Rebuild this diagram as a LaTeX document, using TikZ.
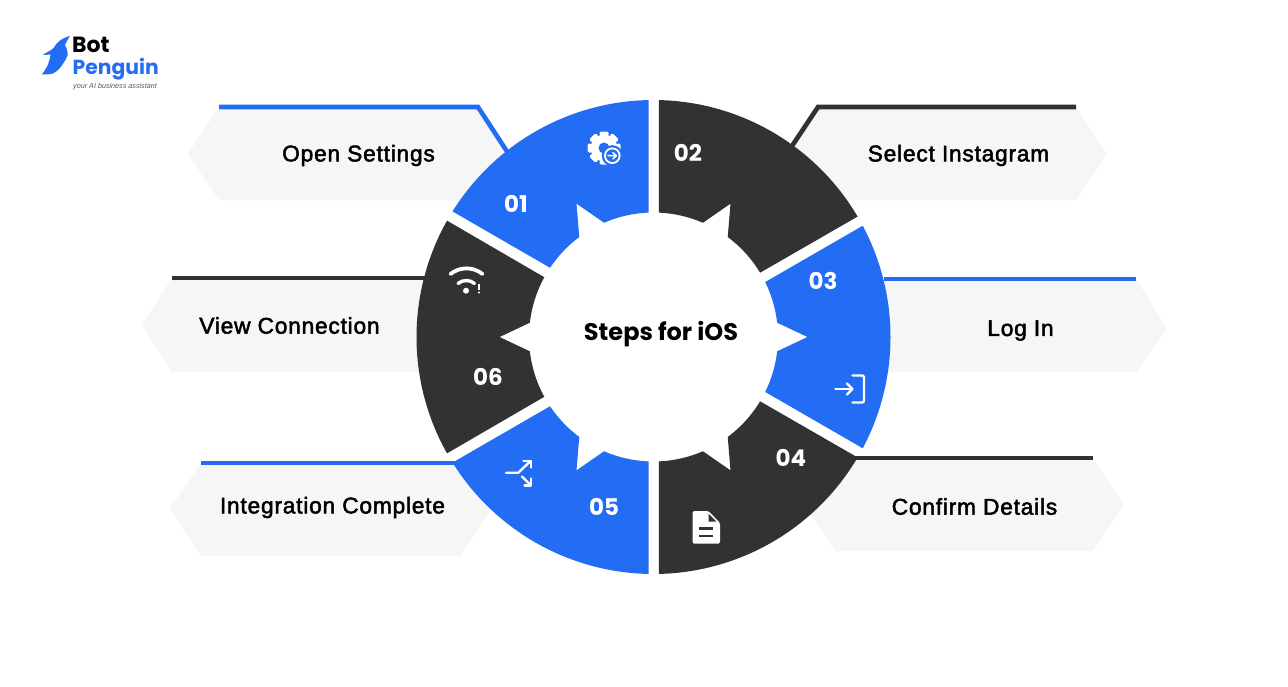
\documentclass[tikz,border=0pt]{standalone}
\usepackage{fontspec}
\setmainfont{Liberation Sans}
\newfontfamily\labfont[LetterSpace=3.5,FakeBold=2.2]{Liberation Sans}
\newfontfamily\popfont{Poppins}
\definecolor{wblue}{HTML}{236CF4}
\definecolor{wdark}{HTML}{323232}
\definecolor{hexfill}{HTML}{F6F6F6}
\tikzset{
  hexshape/.style={fill=hexfill,draw=none},
  hexline/.style={line width=4.6pt,line join=miter},
  steplabel/.style={font=\labfont\fontsize{22.7}{26}\selectfont,text=black,inner sep=0pt},
  stepnum/.style={font=\popfont\bfseries\fontsize{23}{26}\selectfont,text=white,inner sep=0pt},
  iconline/.style={draw=white,line width=2.4pt,line cap=round,line join=round},
}
% #1 colour, #2 outer start, #3 outer end, #4 inner start, #5 inner end, #6 spike angle
\newcommand{\wheelseg}[6]{%
  \fill[#1] (#2:237pt) arc[start angle=#2,end angle=#3,radius=237pt]
    -- (#5:124.5pt) arc[start angle=#5,end angle=#6+6.6,radius=124.5pt]
    -- (#6:154pt) -- (#6-6.6:124.5pt)
    arc[start angle=#6-6.6,end angle=#4,radius=124.5pt] -- cycle;}
\begin{document}
\begin{tikzpicture}[x=1pt,y=-1pt]
\useasboundingbox (0,0) rectangle (1288,686);
\fill[white] (0,0) rectangle (1288,686);
% hexagons
\fill[hexshape] (188,154) -- (219,107) -- (478,107) -- (508,154) -- (478,200) -- (219,200) -- cycle;
\fill[hexshape] (787,154) -- (818,107) -- (1076,107) -- (1107,154) -- (1076,200) -- (818,200) -- cycle;
\fill[hexshape] (860,329) -- (884,279) -- (1136,279) -- (1167,329) -- (1136,372) -- (860,372) -- cycle;
\fill[hexshape] (805,505) -- (835,458) -- (1093,458) -- (1124,505) -- (1093,551) -- (835,551) -- cycle;
\fill[hexshape] (170,509) -- (201,463) -- (460,463) -- (492,509) -- (460,556) -- (201,556) -- cycle;
\fill[hexshape] (142,325) -- (172,278) -- (440,278) -- (440,372) -- (172,372) -- cycle;
\draw[hexline,wblue] (219,107) -- (478,107) -- (508,153);
\draw[hexline,wdark] (1076,107) -- (818,107) -- (790,149);
\draw[hexline,wblue] (1136,279) -- (884,279);
\draw[hexline,wdark] (1093,458) -- (850,458);
\draw[hexline,wblue] (201,463) -- (458,463);
\draw[hexline,wdark] (172,278) -- (430,278);
% wheel
\begin{scope}[shift={(653.5,337)}]
\begin{scope}[y=1pt]
\wheelseg{wblue}{91.2}{148}{92.2}{146.2}{120}
\wheelseg{wdark}{30.55}{88.7}{31.1}{87.5}{60}
\wheelseg{wblue}{-28}{28}{-26.2}{26.2}{0}
\wheelseg{wdark}{-88.7}{-30.55}{-87.5}{-31.1}{-60}
\wheelseg{wblue}{212}{268.8}{213.8}{267.8}{240}
\wheelseg{wdark}{150.6}{209.4}{151.3}{208.7}{180}
\end{scope}
\end{scope}
% labels
\node[steplabel] (lab1) at (358.5,155.5) {Open Settings};
\node[steplabel] (lab2) at (958.5,155.5) {Select Instagram};
\node[steplabel] (lab3) at (1020.5,330.5) {Log In};
\node[steplabel] (lab4) at (974.5,506.5) {Confirm Details};
\node[steplabel] (lab5) at (332.5,507.5) {Integration Complete};
\node[steplabel] (lab6) at (289.5,325.5) {View Connection};
\node[stepnum] (num1) at (516,204) {01};
\node[stepnum] (num2) at (688,153) {02};
\node[stepnum] (num3) at (823,281) {03};
\node[stepnum] (num4) at (791,458) {04};
\node[stepnum] (num5) at (604,507) {05};
\node[stepnum] (num6) at (488,377) {06};
\node[font=\popfont\bfseries\fontsize{24}{28}\selectfont,text=black,inner sep=0pt] (title) at (661,334.5) {Steps for iOS};
% login icon
\draw[iconline] (835.5,389) -- (852,389);
\draw[iconline] (847,383.5) -- (852.5,389) -- (847,394.5);
\draw[iconline,rounded corners=2pt] (852.5,375.5) -- (864,375.5) -- (864,402.5) -- (852.5,402.5);
% document icon
\fill[white,rounded corners=1.5pt] (692.5,511) -- (708.5,511) -- (720,523) -- (720,543.5) -- (692.5,543.5) -- cycle;
\fill[wdark] (708.5,513.5) -- (716.5,521.5) -- (708.5,521.5) -- cycle;
\draw[wdark,line width=2.4pt] (699.3,528.3) -- (712.7,528.3);
\draw[wdark,line width=2.4pt] (699.3,535.7) -- (712.7,535.7);
% split icon
\draw[iconline] (506,472.7) -- (518.3,472.7) -- (530.5,461);
\draw[iconline] (523.5,461) -- (531,461) -- (531,467.5);
\draw[iconline] (522,476.5) -- (530.5,485);
\draw[iconline] (531,478.5) -- (531,485.3) -- (524.5,485.3);
% wifi icon
\draw[iconline,line width=3.8pt] (450.5,274) .. controls (460,266.5) and (473,266.5) .. (482.5,274);
\draw[iconline,line width=3.4pt] (458,283.5) .. controls (462.5,279.5) and (470,279.5) .. (474.5,283.5);
\fill[white] (466,290.7) circle[radius=3];
\draw[iconline,line width=2pt,line cap=butt] (479,284) -- (479,289.5);
\fill[white] (479,292.5) circle[radius=1.2];
% gear icon
\fill[white] (604,148) circle[radius=13];
\foreach \a in {0,45,...,315}{
  \fill[white,rotate around={\a:(604,148)},rounded corners=1.5pt] (599.5,131.5) rectangle (608.5,140);
}
\fill[wblue] (604,148) circle[radius=5.5];
\fill[wblue] (612.3,155.7) circle[radius=10.5];
\fill[white] (612.3,155.7) circle[radius=8.3];
\fill[wblue] (612.3,155.7) circle[radius=6.3];
\draw[white,line width=1.5pt,line cap=round,line join=round] (608,155.7) -- (616.3,155.7) (613,152.6) -- (616.3,155.7) -- (613,158.8);
% logo
\fill[wblue] (70,36) .. controls (66,37) and (63,38.5) .. (60.7,40) .. controls (57,42.5) and (55,46) .. (53.3,48.3)
  .. controls (50,51) and (46,53) .. (42.7,54.5) .. controls (45,55) and (48,55) .. (50.5,54.3)
  .. controls (50,60) and (48,67) .. (41.7,74.5)
  .. controls (46,74.5) and (50,74.5) .. (53.3,73.3) .. controls (58,71) and (61,67) .. (63.3,63.3)
  .. controls (66,59) and (67.7,56) .. (67.7,53.3) .. controls (67.7,50) and (66,47) .. (65,45) .. controls (66,42) and (68,39) .. (70,36) -- cycle;
\node[anchor=base west,font=\popfont\bfseries\fontsize{22}{24}\selectfont,text=black,inner sep=0pt] (logotop) at (72,52.7) {Bot};
\node[anchor=base west,font=\popfont\bfseries\fontsize{20.3}{24}\selectfont,text=wblue,inner sep=0pt] (logobot) at (72.5,74.5) {Penguin};
\node[anchor=base west,font=\itshape\fontsize{7.2}{9}\selectfont,text=black!65,inner sep=0pt] (logotag) at (73,88.5) {your AI business assistant};
\end{tikzpicture}
\end{document}
